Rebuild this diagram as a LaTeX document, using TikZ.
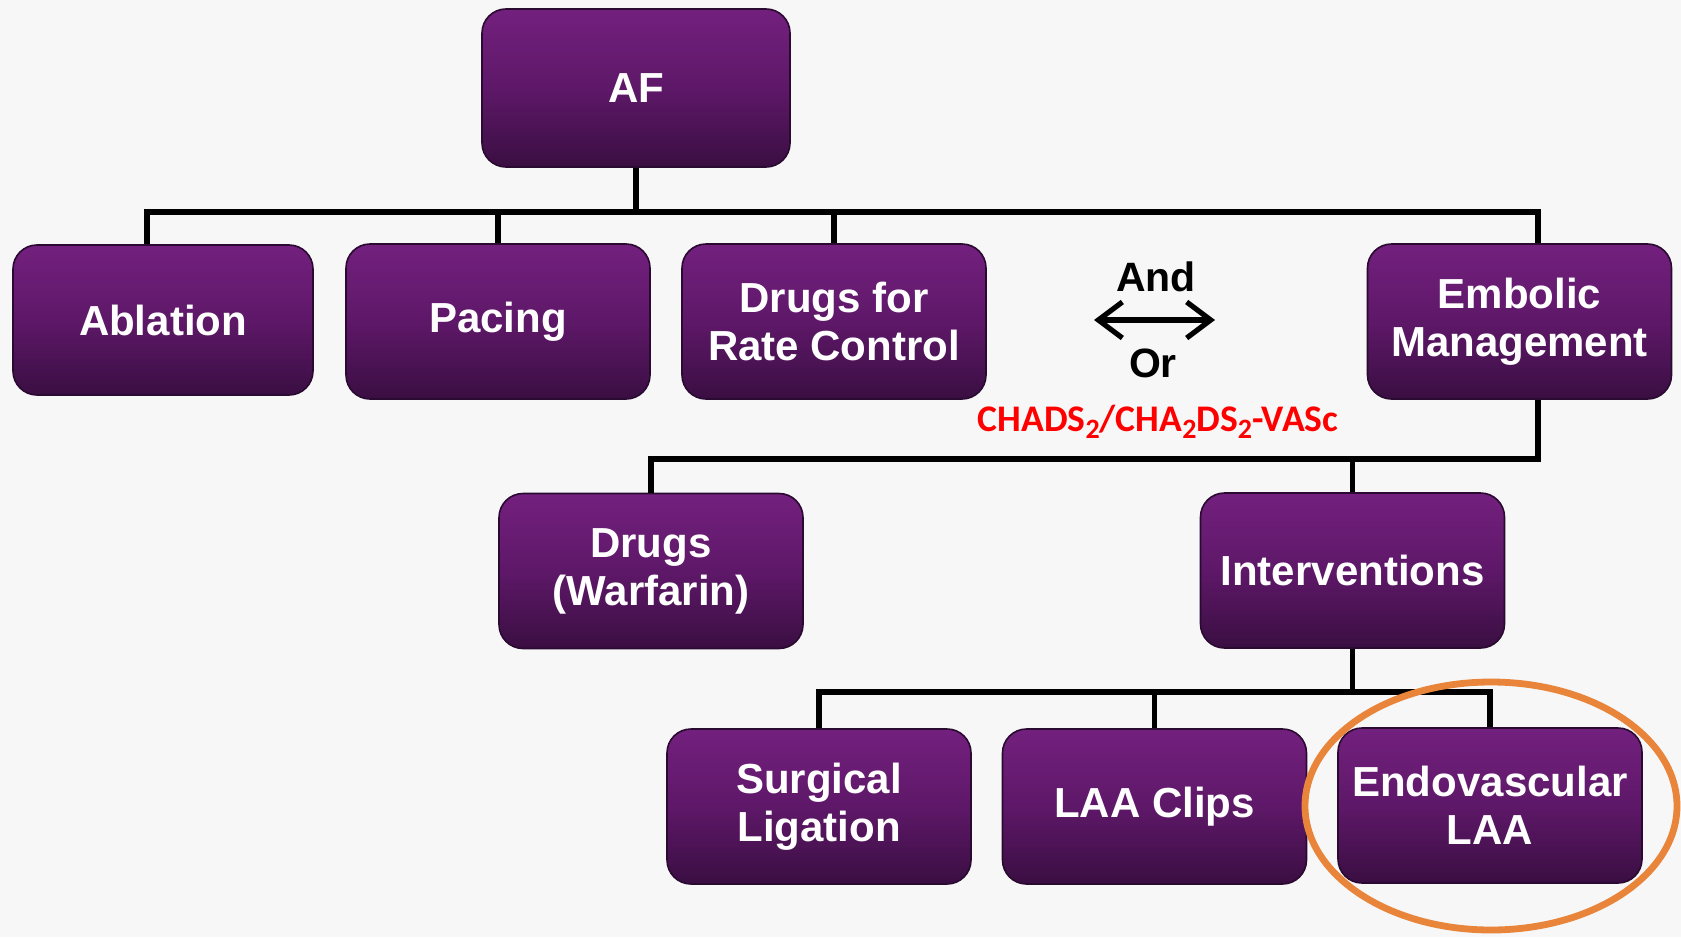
\documentclass[tikz,border=0pt]{standalone}
\usepackage{fontspec}
\setmainfont{Liberation Sans}
\newfontfamily\calfont{Carlito}
\usetikzlibrary{arrows.meta}
\definecolor{bgcol}{HTML}{F7F7F7}
\definecolor{ptop}{HTML}{73207E}
\definecolor{pmid}{HTML}{5E1868}
\definecolor{pbot}{HTML}{3A0E42}
\definecolor{pedge}{HTML}{2A0A30}
\definecolor{chadsred}{HTML}{FF0000}
\definecolor{ringorange}{HTML}{E8853A}
\newcommand{\mysub}[1]{\raisebox{-0.42ex}{\fontsize{14}{14}\selectfont #1}}
\begin{document}
\begin{tikzpicture}[x=0.5pt,y=-0.5pt,
  box/.style={rectangle, rounded corners=12pt, draw=pedge, line width=0.8pt,
    top color=ptop, bottom color=pbot, middle color=pmid, text=white,
    font=\bfseries\fontsize{21}{24}\selectfont, align=center, inner sep=0pt,
    minimum width=152pt, minimum height=77.5pt},
  link/.style={line width=2.6pt, black, line join=miter},
  lbl/.style={font=\bfseries\fontsize{20.5}{24}\selectfont, text=black, anchor=base, inner sep=0pt},
]
\fill[bgcol] (0,0) rectangle (1681,937);
\useasboundingbox (0,0) rectangle (1681,937);

% boxes
\node[box, minimum width=154pt, minimum height=79pt] (af) at (636,88) {AF};
\node[box, minimum width=150pt, minimum height=75pt] (abl) at (163,320) {Ablation};
\node[box] (pac) at (498,321.5) {Pacing};
\node[box] (drc) at (834,321.5) {Drugs for\\Rate Control};
\node[box] (emb) at (1519.5,321.5) {Embolic\\Management};
\node[box] (dw) at (651,571) {Drugs\\(Warfarin)};
\node[box] (int) at (1352.5,570.5) {Interventions};
\node[box] (sur) at (819,806.5) {Surgical\\Ligation};
\node[box] (clip) at (1154.5,806.5) {LAA Clips};
\node[box] (endo) at (1490,805.5) {Endovascular\\LAA};

% connectors level 1
\coordinate (b1L) at (147,212);
\coordinate (b1R) at (1538,212);
\draw[link] (b1L |- abl.north) -- (b1L) -- (b1R) -- (b1R |- emb.north);
\draw[link] (af.south) -- (af.south |- b1L);
\draw[link] (pac.north) -- (pac.north |- b1L);
\draw[link] (drc.north) -- (drc.north |- b1L);

% connectors level 2
\coordinate (b2R) at (1538,459);
\draw[link] (b2R |- emb.south) -- (b2R) -- (b2R -| dw.north) -- (dw.north);
\draw[link] (int.north) -- (int.north |- b2R);

% connectors level 3
\coordinate (b3) at (0,692);
\draw[link] (sur.north) -- (sur.north |- b3) -- (endo.north |- b3) -- (endo.north);
\draw[link] (int.south) -- (int.south |- b3);
\draw[link] (clip.north) -- (clip.north |- b3);

% And / Or
\node[lbl] (and) at (1156,291) {And};
\node[lbl] (or) at (1153,377) {Or};
\coordinate (arL) at (1094,320);
\coordinate (arR) at (1215,320);
\draw[line width=2.6pt, {Straight Barb[length=12pt,width=18pt,line width=2.6pt]}-{Straight Barb[length=12pt,width=18pt,line width=2.6pt]}] (arL) -- (arR);

% CHADS
\node[anchor=base, inner sep=0pt, text=chadsred, font=\calfont\bfseries\fontsize{18.8}{20}\selectfont] (chads) at (1158,431) {CHADS\mysub{2}/CHA\mysub{2}DS\mysub{2}-VASc};

% orange ring
\draw[ringorange, line width=3.4pt] (1491,806) ellipse [x radius=186, y radius=124];
\end{tikzpicture}
\end{document}
